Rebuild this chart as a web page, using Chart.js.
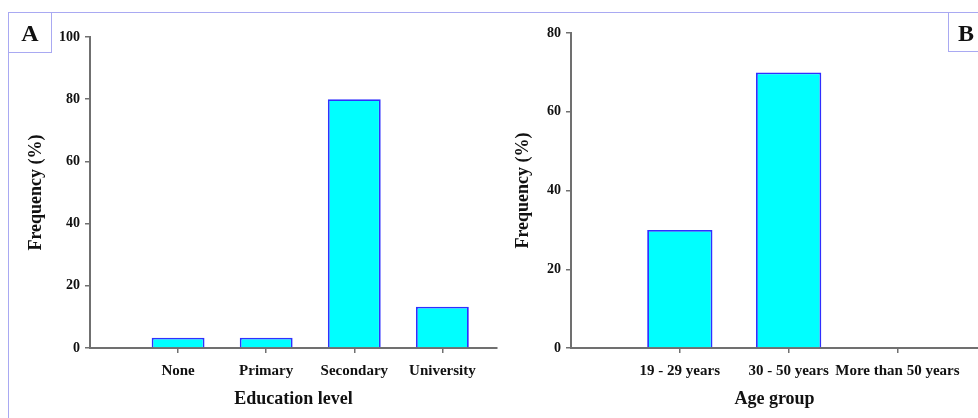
<!DOCTYPE html>
<html>
<head>
<meta charset="utf-8">
<script src="https://cdn.jsdelivr.net/npm/chart.js@4"></script>
<style>
  body { margin: 0; background: #fff; }
  #wrap { position: relative; width: 978px; height: 418px; overflow: hidden; font-family: "Liberation Serif", serif; }
  canvas { position: absolute; top: 0; }
  #chartA { left: 0; }
  #chartB { left: 490px; }
  .frame { position: absolute; left: 8px; top: 12px; width: 980px; height: 420px; border-left: 1.5px solid #a9a9f2; border-top: 1.5px solid #a9a9f2; }
  .tag { position: absolute; top: 13px; height: 39px; border-bottom: 1.5px solid #a9a9f2; font-weight: bold; font-size: 24px; line-height: 40px; color: #111; }
  #tagA { left: 9px; width: 42px; border-right: 1.5px solid #a9a9f2; text-align: center; }
  #tagB { left: 948px; width: 40px; border-left: 1.5px solid #a9a9f2; padding-left: 9px; box-sizing: border-box; }
</style>
</head>
<body>
<div id="wrap">
  <div class="frame"></div>
  <canvas id="chartA" width="500" height="418"></canvas>
  <canvas id="chartB" width="488" height="418"></canvas>
  <div class="tag" id="tagA">A</div>
  <div class="tag" id="tagB">B</div>
</div>
<script>
const educationLabels = ['None', 'Primary', 'Secondary', 'University'];
const educationValues = [3.3, 3.3, 80, 13.3];
const educationTicks = [0, 20, 40, 60, 80, 100];

const ageLabels = ['19 - 29 years', '30 - 50 years', 'More than 50 years'];
const ageValues = [30, 70, 0];
const ageTicks = [0, 20, 40, 60, 80];

const FONT = "'Liberation Serif', 'Times New Roman', serif";
const AXIS = '#707070';

function makeChart(id, labels, values, yTicks, opts) {
  const ctx = document.getElementById(id).getContext('2d');
  return new Chart(ctx, {
    type: 'bar',
    data: {
      datasets: [{
        // categories sit at 1..n on a linear axis so the gap left of the first one matches
        data: labels.map((label, i) => ({ x: i + 1, y: values[i] })),
        backgroundColor: '#00ffff',
        borderColor: '#2f2fff',
        borderWidth: 1.8,
        categoryPercentage: 1,
        barPercentage: 0.6
      }]
    },
    options: {
      animation: false,
      responsive: false,
      layout: { padding: { left: 0, right: opts.padRight, top: opts.top, bottom: 0 } },
      plugins: { legend: { display: false }, tooltip: { enabled: false } },
      scales: {
        x: {
          type: 'linear',
          offset: false,
          min: 0,
          max: opts.xMax,
          afterBuildTicks(scale) {
            scale.ticks = labels.map((label, i) => ({ value: i + 1 }));
          },
          afterFit(scale) { scale.height = 70; },
          ticks: {
            autoSkip: false,
            maxRotation: 0,
            padding: 9,
            color: '#111',
            font: { family: FONT, size: 15, weight: 'bold' },
            callback: (v) => labels[v - 1]
          },
          grid: { offset: false, drawOnChartArea: false, drawTicks: true, tickLength: 5, color: AXIS, lineWidth: 1.5 },
          border: { display: true, color: AXIS, width: 2 },
          title: {
            display: true,
            text: opts.xTitle,
            color: '#111',
            padding: { top: 0, bottom: 8 },
            font: { family: FONT, size: 18, weight: 'bold' }
          }
        },
        y: {
          min: 0,
          max: yTicks[yTicks.length - 1],
          afterBuildTicks(scale) {
            scale.ticks = yTicks.map(v => ({ value: v }));
          },
          afterFit(scale) { scale.width = opts.yWidth; },
          ticks: {
            padding: 5,
            color: '#111',
            font: { family: FONT, size: 14, weight: 'bold' }
          },
          grid: { drawOnChartArea: false, drawTicks: true, tickLength: 5, color: AXIS, lineWidth: 1.5 },
          border: { display: true, color: AXIS, width: 2 },
          title: {
            display: true,
            text: 'Frequency (%)',
            color: '#111',
            padding: { top: opts.yTitlePad, bottom: 0 },
            font: { family: FONT, size: 18, weight: 'bold' }
          }
        }
      }
    }
  });
}

makeChart('chartA', educationLabels, educationValues, educationTicks, {
  xMax: 4.62, top: 37, padRight: 3, yWidth: 90, yTitlePad: 26, xTitle: 'Education level'
});

makeChart('chartB', ageLabels, ageValues, ageTicks, {
  xMax: 3.74, top: 33, padRight: 0, yWidth: 81, yTitlePad: 23, xTitle: 'Age group'
});
</script>
</body>
</html>
